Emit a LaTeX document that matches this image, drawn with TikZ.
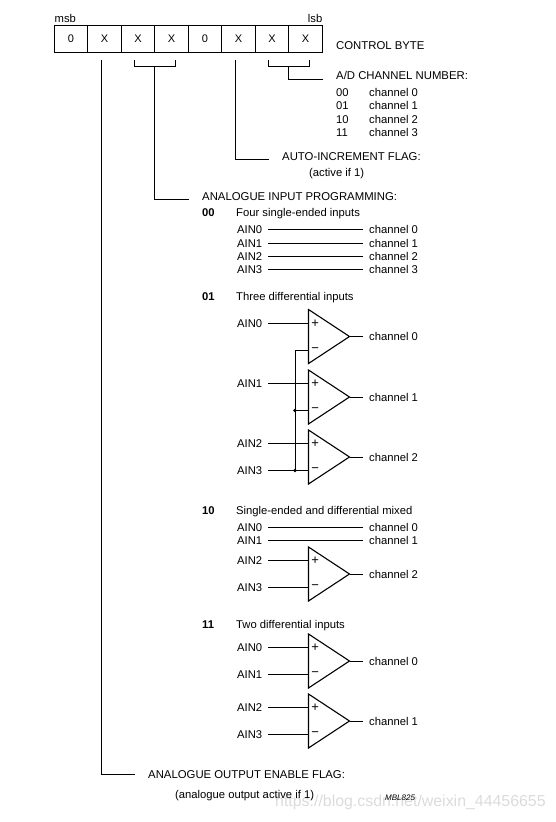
\documentclass[tikz,border=0pt]{standalone}
\usepackage{fontspec}
\setmainfont{Liberation Sans}
\usetikzlibrary{positioning}
\definecolor{wmark}{gray}{0.86}
\tikzset{
  wire/.style={draw=black, line width=1pt},
  txt/.style={anchor=west, inner sep=0pt, text height=9.8pt, text depth=1pt, font=\fontsize{11.25}{12}\selectfont},
  hdr/.style={txt, font=\fontsize{11.35}{12}\selectfont},
  bitcell/.style={draw=black, line width=1pt, minimum width=33.5pt, minimum height=26.5pt, inner sep=0pt, font=\fontsize{11}{12}\selectfont},
  ainlab/.style={txt, text width=24pt},
  chanlab/.style={txt},
  sgn/.style={inner sep=0pt, font=\fontsize{13}{13}\selectfont},
}
% one amplifier: name, top corner y
\newcommand{\opamp}[2]{
  \coordinate (#1top) at (308.5,#2);
  \coordinate (#1bot) at (308.5,#2+54);
  \coordinate (#1tip) at (349.5,#2+27);
  \coordinate (#1p) at (308.5,#2+13.5);
  \coordinate (#1m) at (308.5,#2+40.5);
  \draw[wire, line width=1.1pt] (#1top) -- (#1tip) -- (#1bot) -- cycle;
  \node[sgn] (#1plus) at (315.2,#2+14) {+};
  \node[sgn] (#1minus) at (315.2,#2+40.5) {\char"2212};
}
\begin{document}
\begin{tikzpicture}[x=1pt, y=-1pt]
  \useasboundingbox (0,0) rectangle (556,822);
  \node[txt, text=wmark, font=\fontsize{15.9}{17}\selectfont] (wm) at (275,802) {https://blog.csdn.net/weixin\_44456655};
  % control byte
  \foreach \i/\lab in {0/0,1/X,2/X,3/X,4/0,5/X,6/X,7/X} {
    \node[bitcell] (bit\i) at (71+33.5*\i,39) {\lab};
  }
  \node[txt] (msb) at (54.5,18) {msb};
  \node[txt, anchor=east] (lsb) at (322.5,18) {lsb};
  \node[hdr] (ctrl) at (336,45) {CONTROL BYTE};

  % channel number
  \node[hdr] (adnum) at (336,75) {A/D CHANNEL NUMBER:};
  \foreach \y/\code/\ch in {92/00/0,105.5/01/1,119/10/2,132.5/11/3} {
    \node[txt] (code\code) at (336,\y) {\code};
    \node[chanlab] (chan\code) at (369,\y) {channel \ch};
  }
  \coordinate (brA) at (268.7,59.5);
  \coordinate (brB) at (309,59.5);
  \coordinate (brC) at (288.8,66.3);
  \draw[wire] (brA) |- (brC) -| (brB);
  \draw[wire] (brC) |- ([xshift=-13.5pt,yshift=-4.3pt]adnum.west);

  % auto increment
  \node[hdr] (autoflag) at (282,156) {AUTO-INCREMENT FLAG:};
  \node[txt] (autonote) at (309,172) {(active if 1)};
  \coordinate (autotop) at (235,59.5);
  \draw[wire] (autotop) |- ([xshift=-13.5pt,yshift=-3.3pt]autoflag.west);

  % input programming
  \node[hdr] (inprog) at (202,196) {ANALOGUE INPUT PROGRAMMING:};
  \coordinate (brD) at (134.7,59.5);
  \coordinate (brE) at (175.3,59.5);
  \coordinate (brF) at (154.8,66.3);
  \draw[wire] (brD) |- (brF) -| (brE);
  \draw[wire] (brF) |- ([xshift=-13.5pt,yshift=-3.7pt]inprog.west);

  % mode headings
  \foreach \y/\code/\lab in {212/00/Four single-ended inputs,296/01/Three differential inputs,
      510/10/Single-ended and differential mixed,624/11/Two differential inputs} {
    \node[txt, font=\fontsize{11.25}{12}\selectfont\bfseries] (mode\code) at (202,\y) {\code};
    \node[txt] (title\code) at (236,\y) {\lab};
  }

  % straight through lines
  \foreach \y/\id/\a/\c in {229.5/sA/0/0,243/sB/1/1,256/sC/2/2,269.5/sD/3/3,527/sE/0/0,540/sF/1/1} {
    \node[ainlab] (ain\id) at (237,\y) {AIN\a};
    \node[chanlab] (ch\id) at (369,\y) {channel \c};
    \draw[wire, shorten <=7pt, shorten >=6.5pt] (ain\id) -- (ch\id);
  }

  % amplifiers
  \foreach \amp/\y/\ap/\am/\c in {ampC/547/2/3/2,ampD/634/0/1/0,ampE/694/2/3/1} {
    \opamp{\amp}{\y}
    \node[ainlab] (\amp inp) at (237,\y+13.5) {AIN\ap};
    \node[ainlab] (\amp inm) at (237,\y+40.5) {AIN\am};
    \node[chanlab] (\amp out) at (369,\y+27) {channel \c};
    \draw[wire, shorten <=7pt] (\amp inp) -- (\amp p);
    \draw[wire, shorten <=7pt] (\amp inm) -- (\amp m);
    \draw[wire, shorten >=6.5pt] (\amp tip) -- (\amp out);
  }

  % three differential inputs
  \foreach \amp/\y/\c in {ampF/309.5/0,ampG/370/1,ampH/430/2} {
    \opamp{\amp}{\y}
    \node[chanlab] (\amp out) at (369,\y+27) {channel \c};
    \draw[wire, shorten >=6.5pt] (\amp tip) -- (\amp out);
  }
  \foreach \amp/\lab in {ampF/0,ampG/1,ampH/2} {
    \node[ainlab] (ain\amp) at (237,0 |- \amp p) {AIN\lab};
    \draw[wire, shorten <=7pt] (ain\amp) -- (\amp p);
  }
  \node[ainlab] (ainbus) at (237,0 |- ampHm) {AIN3};
  \draw[wire, shorten <=7pt] (ainbus) -- (ampHm);
  \coordinate (busA) at (295,0 |- ampFm);
  \coordinate (busB) at (295,0 |- ampGm);
  \coordinate (busC) at (295,0 |- ampHm);
  \draw[wire] (ampFm) -- (busA) -- (busC);
  \draw[wire] (busB) -- (ampGm);
  \fill (busB) circle (1.8pt);
  \fill (busC) circle (1.8pt);

  % output enable
  \node[hdr] (outflag) at (148,774) {ANALOGUE OUTPUT ENABLE FLAG:};
  \node[txt] (outnote) at (175,794) {(analogue output active if 1)};
  \coordinate (outtop) at (101.5,59.5);
  \draw[wire] (outtop) |- ([xshift=-13pt]outflag.west);

  \node[txt, font=\fontsize{8}{9}\selectfont\itshape] (mbl) at (385,796) {MBL825};
\end{tikzpicture}
\end{document}
